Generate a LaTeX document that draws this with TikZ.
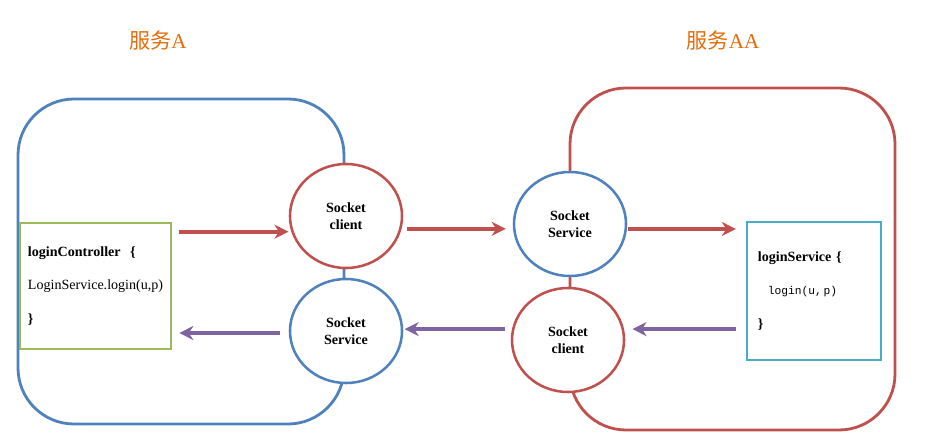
\documentclass[tikz,border=0pt]{standalone}
\usepackage{fontspec}
\setmainfont{Liberation Serif}
\setmonofont{Liberation Mono}
\newfontfamily\cjk{Noto Sans CJK SC}
\usetikzlibrary{arrows.meta,shapes.geometric}
\definecolor{boxblue}{RGB}{79,129,189}
\definecolor{boxred}{RGB}{192,80,77}
\definecolor{boxgreen}{RGB}{155,187,89}
\definecolor{boxcyan}{RGB}{75,172,198}
\definecolor{arrpurple}{RGB}{128,100,162}
\definecolor{titleorange}{RGB}{228,108,10}
\begin{document}
\begin{tikzpicture}[x=0.025cm, y=-0.025cm, >={Stealth[length=10pt,width=10pt]},
      service/.style={
        % The shape:
        rounded corners=1.4cm,
        % The rest
        line width=2pt},
      sock/.style={
        % The shape:
        ellipse,minimum width=2.8cm,minimum height=2.6cm,inner sep=0pt,
        % The rest
        line width=1.8pt,fill=white,align=center,
        font=\bfseries\fontsize{10}{12.5}\selectfont},
      code/.style={
        % The shape:
        rectangle,inner xsep=0pt,inner ysep=0pt,
        % The rest
        line width=1.8pt,align=left,font=\fontsize{10}{12}\selectfont},
      title/.style={text=titleorange,font=\fontsize{15}{18}\selectfont},
      fwd/.style={line width=2.6pt,draw=boxred,->},
      back/.style={line width=2.6pt,draw=arrpurple,->}]
    \useasboundingbox (0,0) rectangle (926,446);
    % the two services
    \draw[service,draw=boxblue] (18,99) rectangle (344,424);
    \draw[service,draw=boxred] (570,88) rectangle (895,430);
    \node(tA)[title] at (158,40) {{\cjk 服务}A};
    \node(tAA)[title] at (723,40) {{\cjk 服务}AA};
    % sockets
    \node(cl)[sock,draw=boxred] at (346,216) {Socket\\client};
    \node(ss)[sock,draw=boxblue] at (346,331) {Socket\\Service};
    \node(rs)[sock,draw=boxblue] at (570,224) {Socket\\Service};
    \node(rc)[sock,draw=boxred] at (568,340) {Socket\\client};
    % code boxes
    \node(lc)[code,draw=boxgreen,text width=3.375cm,inner xsep=0.2cm,
      minimum height=3.15cm] at (95.5,286)
      {\textbf{loginController\ \ \{}\\[12pt]
       LoginService.login(u,p)\\[12pt]
       \textbf{\}}};
    \node(ls)[code,draw=boxcyan,text width=2.8cm,inner xsep=0.275cm,
      minimum height=3.45cm] at (814,291)
      {\textbf{loginService \{}\\[12pt]
       \hspace*{7pt}{\ttfamily\fontsize{8}{12}\selectfont login(u,\,p)}\\[12pt]
       \textbf{\}}};
    % requests
    \draw[fwd, shorten <=5pt, shorten >=2pt] (lc.east |- cl.196) -- (cl.196);
    \draw[fwd, shorten <=4pt, shorten >=5pt] (cl.-13) -- (cl.-13 -| rs.west);
    \draw[fwd, shorten <=1pt, shorten >=7pt] (rs.-5) -- (rs.-5 -| ls.west);
    % answers
    \draw[back, shorten <=7pt, shorten >=6pt] (ls.west |- rc.11) -- (rc.11);
    \draw[back, shorten <=5pt, shorten >=1pt] (rc.169) -- (rc.169 -| ss.east);
    \draw[back, shorten <=6pt, shorten >=5pt] (ss.182) -- (ss.182 -| lc.east);
  \end{tikzpicture}
\end{document}
